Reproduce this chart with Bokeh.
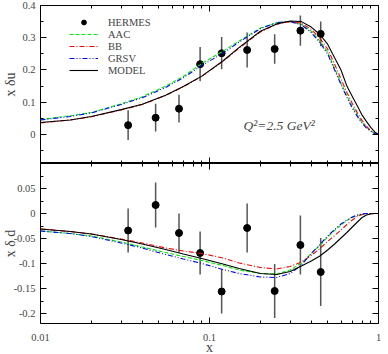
from bokeh.plotting import figure
from bokeh.models import (Range1d, LogAxis, LinearAxis, FixedTicker, PrintfTickFormatter,
                          Legend, LegendItem, Label, ColumnDataSource)
from bokeh.layouts import column
from bokeh.embed import file_html
from bokeh.resources import INLINE

# ---------------- data ----------------
x_hermes = [0.033, 0.048, 0.066, 0.088, 0.118, 0.167, 0.243, 0.345, 0.455]
du_hermes = [0.029, 0.052, 0.080, 0.218, 0.252, 0.262, 0.265, 0.322, 0.312]
du_err = [0.046, 0.043, 0.043, 0.053, 0.050, 0.054, 0.046, 0.047, 0.038]
dd_hermes = [-0.034, 0.017, -0.039, -0.079, -0.156, -0.029, -0.155, -0.063, -0.117]
dd_err = [0.044, 0.045, 0.039, 0.043, 0.044, 0.049, 0.054, 0.059, 0.068]

x_curve = [0.01, 0.015, 0.02, 0.03, 0.04, 0.055, 0.07, 0.09, 0.12, 0.15, 0.2, 0.25, 0.3,
           0.35, 0.4, 0.45, 0.5, 0.55, 0.6, 0.65, 0.7, 0.75, 0.8, 0.85, 0.9, 0.95, 1.0]

du_model = [0.037, 0.045, 0.056, 0.077, 0.094, 0.122, 0.149, 0.181, 0.228, 0.270, 0.320, 0.343, 0.352,
            0.350, 0.333, 0.310, 0.280, 0.238, 0.200, 0.150, 0.118, 0.088, 0.060, 0.040, 0.022, 0.008, 0.0]
du_aac = [0.046, 0.058, 0.068, 0.095, 0.117, 0.150, 0.180, 0.220, 0.258, 0.290, 0.330, 0.347, 0.350,
          0.342, 0.320, 0.290, 0.256, 0.205, 0.160, 0.120, 0.087, 0.060, 0.038, 0.022, 0.011, 0.004, 0.0]
du_bb = [0.036, 0.045, 0.055, 0.076, 0.093, 0.121, 0.148, 0.180, 0.227, 0.268, 0.318, 0.342, 0.350,
         0.345, 0.326, 0.298, 0.265, 0.218, 0.172, 0.130, 0.096, 0.067, 0.043, 0.025, 0.012, 0.004, 0.0]
du_grsv = [0.045, 0.056, 0.067, 0.093, 0.114, 0.146, 0.176, 0.214, 0.252, 0.287, 0.328, 0.347, 0.350,
           0.340, 0.316, 0.285, 0.250, 0.200, 0.155, 0.115, 0.082, 0.056, 0.035, 0.020, 0.010, 0.003, 0.0]

dd_model = [-0.031, -0.036, -0.041, -0.052, -0.061, -0.072, -0.081, -0.090, -0.101, -0.110, -0.120, -0.122, -0.116,
            -0.105, -0.095, -0.085, -0.073, -0.061, -0.049, -0.038, -0.027, -0.017, -0.008, -0.003, -0.001, 0.0, 0.0]
dd_bb = [-0.031, -0.036, -0.041, -0.051, -0.059, -0.069, -0.075, -0.080, -0.089, -0.099, -0.108, -0.111, -0.106,
         -0.097, -0.084, -0.070, -0.056, -0.044, -0.033, -0.022, -0.013, -0.006, -0.002, -0.001, 0.0, 0.0, 0.0]
dd_aac = [-0.035, -0.040, -0.045, -0.057, -0.067, -0.078, -0.086, -0.094, -0.104, -0.113, -0.120, -0.121, -0.113,
          -0.099, -0.080, -0.064, -0.047, -0.034, -0.023, -0.014, -0.008, -0.004, -0.001, 0.0, 0.0, 0.0, 0.0]
dd_grsv = [-0.035, -0.040, -0.046, -0.059, -0.069, -0.082, -0.091, -0.100, -0.112, -0.120, -0.127, -0.128, -0.120,
           -0.103, -0.080, -0.062, -0.045, -0.032, -0.021, -0.013, -0.007, -0.003, -0.001, 0.0, 0.0, 0.0, 0.0]

x_ticks = [0.01, 0.1, 1.0]
x_minor = [0.02, 0.03, 0.04, 0.05, 0.06, 0.07, 0.08, 0.09, 0.2, 0.3, 0.4, 0.5, 0.6, 0.7, 0.8, 0.9]
du_ticks = [0.0, 0.1, 0.2, 0.3, 0.4]
du_minor = [-0.05, 0.05, 0.15, 0.25, 0.35]
dd_ticks = [-0.2, -0.15, -0.1, -0.05, 0.0, 0.05]
dd_minor = [-0.2, -0.175, -0.15, -0.125, -0.1, -0.075, -0.05, -0.025, 0.0, 0.025, 0.05, 0.075, 0.1]

SERIF = "Liberation Serif"
series_style = [
    ("AAC", "#00ee00", "4 2"),
    ("BB", "#ff0000", "5 2 1 2"),
    ("GRSV", "#0000ff", "5 2 1 2 1 2"),
    ("MODEL", "#000000", "solid"),
]


def style_axis(ax, ticks, minor, show_labels):
    ax.ticker = FixedTicker(ticks=ticks, minor_ticks=minor)
    ax.axis_line_color = None
    ax.major_tick_in = 6
    ax.major_tick_out = 0
    ax.minor_tick_in = 3
    ax.minor_tick_out = 0
    ax.major_tick_line_color = "black"
    ax.minor_tick_line_color = "black"
    ax.major_label_text_font = SERIF
    ax.axis_label_text_font = SERIF
    ax.axis_label_text_font_style = "normal"
    ax.axis_label_text_font_size = "14px"
    if show_labels:
        ax.formatter = PrintfTickFormatter(format="%g")
        ax.major_label_text_font_size = "10.5px"
        ax.major_label_standoff = 5
    else:
        ax.formatter = PrintfTickFormatter(format="")
        ax.major_label_text_font_size = "0px"
        ax.major_label_standoff = 0


def make_panel(yr, yticks, yminor, frame_h, top_border, bottom_border, show_x_labels):
    p = figure(frame_width=338, frame_height=frame_h, x_axis_type="log",
               x_range=Range1d(0.01, 1.0), y_range=Range1d(*yr),
               output_backend="svg", toolbar_location=None, title=None,
               min_border_left=44, min_border_right=6,
               min_border_top=top_border, min_border_bottom=bottom_border)
    p.grid.visible = False
    p.outline_line_color = "black"
    p.outline_line_width = 1
    p.background_fill_color = "white"
    p.border_fill_color = "white"
    p.add_layout(LogAxis(), "above")
    p.add_layout(LinearAxis(), "right")
    style_axis(p.below[0], x_ticks, x_minor, show_x_labels)
    style_axis(p.above[0], x_ticks, x_minor, False)
    style_axis(p.left[0], yticks, yminor, True)
    style_axis(p.right[0], yticks, yminor, False)
    return p


def add_series(p, yvals, herm, err):
    src = ColumnDataSource(dict(x=x_hermes, y=herm,
                                lo=[v - e for v, e in zip(herm, err)],
                                hi=[v + e for v, e in zip(herm, err)]))
    p.segment(x0="x", y0="lo", x1="x", y1="hi", source=src, line_color="#555555", line_width=1.5)
    pts = p.scatter(x="x", y="y", source=src, size=7, color="black")
    rends = {}
    for (name, color, dash), ys in zip(series_style, yvals):
        rends[name] = p.line(x_curve, ys, line_color=color, line_dash=dash, line_width=1.1)
    return pts, rends


# ---------------- top panel ----------------
p1 = make_panel((-0.09, 0.4), du_ticks, du_minor, 158, 9, 0, False)
pts1, r1 = add_series(p1, [du_aac, du_bb, du_grsv, du_model], du_hermes, du_err)
p1.left[0].axis_label = "x δu"
p1.left[0].axis_label_standoff = 1

items = [LegendItem(label="HERMES", renderers=[pts1])]
for name, _, _ in series_style:
    items.append(LegendItem(label=name, renderers=[r1[name]]))
leg = Legend(items=items, location=(29, 87), padding=0, margin=0, spacing=0,
             glyph_width=29, glyph_height=12, label_height=12, label_standoff=10,
             label_text_font=SERIF, label_text_font_size="10.5px",
             background_fill_alpha=0, border_line_color=None)
p1.add_layout(leg)

p1.add_layout(Label(x=0.159, y=0.028, text="Q²=2.5 GeV²", text_font=SERIF,
                    text_font_style="italic", text_font_size="13.5px",
                    text_baseline="alphabetic"))

# ---------------- bottom panel ----------------
p2 = make_panel((-0.22, 0.1), dd_ticks, dd_minor, 160, 0, 27, True)
add_series(p2, [dd_aac, dd_bb, dd_grsv, dd_model], dd_hermes, dd_err)
p2.left[0].axis_label = "x δ d"
p2.left[0].axis_label_standoff = -7
p2.below[0].major_label_standoff = 10
p2.below[0].axis_label = "x"
p2.below[0].axis_label_standoff = -4

layout = column(p1, p2, margin=(-4, 0, 0, -4), spacing=0)

open("out.html", "w").write(file_html(layout, INLINE))
